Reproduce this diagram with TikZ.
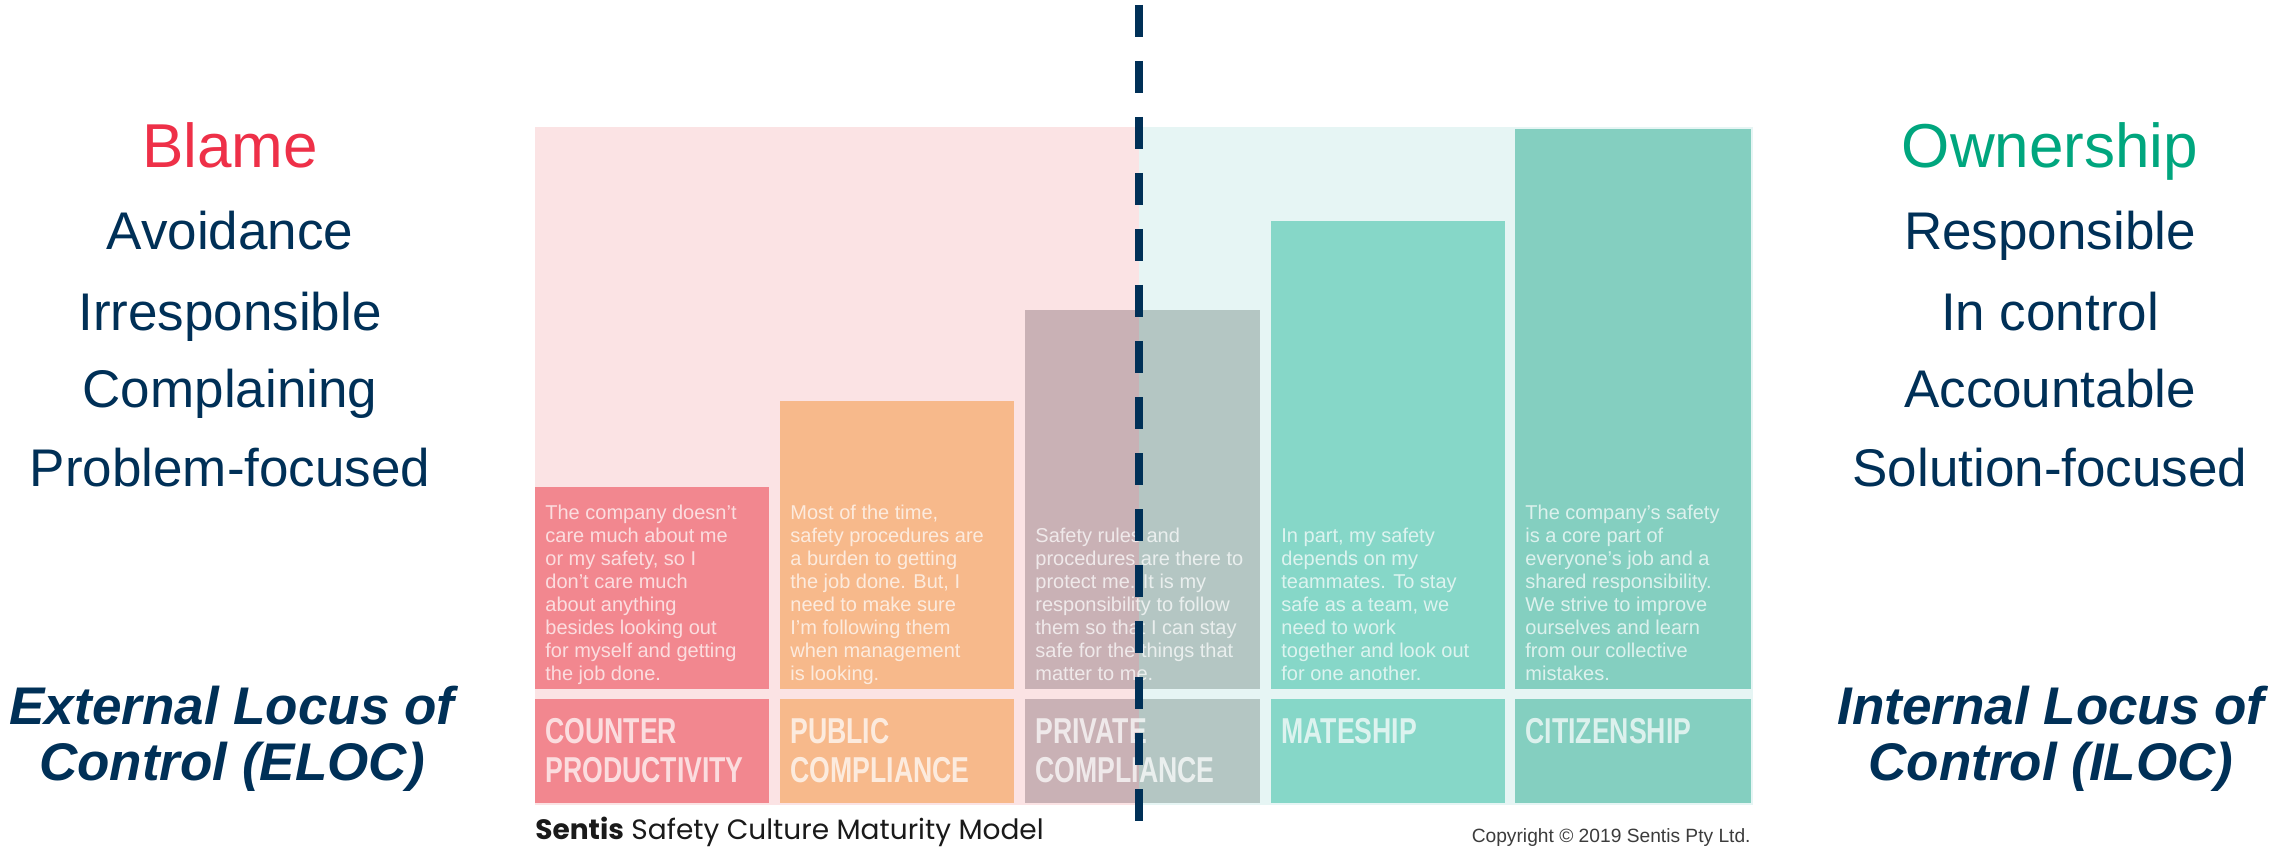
\documentclass[tikz,border=0pt]{standalone}
\usepackage{fontspec}
\setmainfont{Liberation Sans}
\newfontfamily\condfont[FakeStretch=0.74]{Liberation Sans}
\newfontfamily\capfont{Poppins}

\definecolor{navy}{HTML}{003057}
\definecolor{blamered}{HTML}{EE3048}
\definecolor{owngreen}{HTML}{00A67E}
\definecolor{panelpink}{HTML}{FBE3E4}
\definecolor{panelteal}{HTML}{E6F5F4}
\definecolor{cpred}{HTML}{F2878F}
\definecolor{pubor}{HTML}{F7B98B}
\definecolor{privl}{HTML}{C9B1B5}
\definecolor{privr}{HTML}{B4C6C3}
\definecolor{mate}{HTML}{86D7C8}
\definecolor{citi}{HTML}{84CFC0}
\definecolor{capgrey}{HTML}{1A1A1A}
\definecolor{copygrey}{HTML}{3C3C3C}

\tikzset{
  boxtext/.style={anchor=base west, inner sep=0pt, text=white, text opacity=0.72,
    font=\fontsize{10pt}{11.5pt}\selectfont},
  boxlabel/.style={anchor=base west, inner sep=0pt, text=white, text opacity=0.72,
    font=\condfont\bfseries\fontsize{18pt}{19.5pt}\selectfont},
  sideword/.style={anchor=base, inner sep=0pt, text=navy,
    font=\fontsize{26.5pt}{30pt}\selectfont},
  sidehead/.style={anchor=base, inner sep=0pt,
    font=\fontsize{31pt}{34pt}\selectfont},
  locus/.style={anchor=base, inner sep=0pt, text=navy,
    font=\bfseries\itshape\fontsize{26.5pt}{28pt}\selectfont},
  divider/.style={draw=navy, line width=4pt, dash pattern=on 16pt off 12pt},
}

\begin{document}
\begin{tikzpicture}[x=0.5pt,y=-0.5pt]
  \useasboundingbox (0,0) rectangle (2292,850);
  \fill[white] (0,0) rectangle (2292,850);

  % background panel: pink for the external side, teal for the internal side
  \fill[panelpink] (535,127) rectangle (1139,805);
  \fill[panelteal] (1139,127) rectangle (1753,805);

  % maturity columns (description part and title part)
  \fill[cpred] (535,487) rectangle (769,689);
  \fill[cpred] (535,699) rectangle (769,803);
  \fill[pubor] (780,401) rectangle (1014,689);
  \fill[pubor] (780,699) rectangle (1014,803);
  \fill[privl] (1025,310) rectangle (1139,689);
  \fill[privr] (1139,310) rectangle (1260,689);
  \fill[privl] (1025,699) rectangle (1139,803);
  \fill[privr] (1139,699) rectangle (1260,803);
  \fill[mate] (1271,221) rectangle (1505,689);
  \fill[mate] (1271,699) rectangle (1505,803);
  \fill[citi] (1515,129) rectangle (1751,689);
  \fill[citi] (1515,699) rectangle (1751,803);

  % column descriptions
  \node[boxtext] (cptext) at (545,680) {\begin{tabular}[b]{@{}l@{}}
    The company doesn't\\ care much about me\\ or my safety, so I\\ don't care much\\
    about anything\\ besides looking out\\ for myself and getting\\ the job done.\end{tabular}};
  \node[boxtext] (pubtext) at (790,680) {\begin{tabular}[b]{@{}l@{}}
    Most of the time,\\ safety procedures are\\ a burden to getting\\ the job done. But, I\\
    need to make sure\\ I'm following them\\ when management\\ is looking.\end{tabular}};
  \node[boxtext] (privtext) at (1035,680) {\begin{tabular}[b]{@{}l@{}}
    Safety rules and\\ procedures are there to\\ protect me. It is my\\ responsibility to follow\\
    them so that I can stay\\ safe for the things that\\ matter to me.\end{tabular}};
  \node[boxtext] (matetext) at (1281,680) {\begin{tabular}[b]{@{}l@{}}
    In part, my safety\\ depends on my\\ teammates. To stay\\ safe as a team, we\\
    need to work\\ together and look out\\ for one another.\end{tabular}};
  \node[boxtext] (cititext) at (1525,680) {\begin{tabular}[b]{@{}l@{}}
    The company's safety\\ is a core part of\\ everyone's job and a\\ shared responsibility.\\
    We strive to improve\\ ourselves and learn\\ from our collective\\ mistakes.\end{tabular}};

  % column titles
  \node[boxlabel] (cplabel) at (545,743) {\begin{tabular}[t]{@{}l@{}}COUNTER\\ PRODUCTIVITY\end{tabular}};
  \node[boxlabel] (publabel) at (790,743) {\begin{tabular}[t]{@{}l@{}}PUBLIC\\ COMPLIANCE\end{tabular}};
  \node[boxlabel] (privlabel) at (1035,743) {\begin{tabular}[t]{@{}l@{}}PRIVATE\\ COMPLIANCE\end{tabular}};
  \node[boxlabel] (matelabel) at (1281,743) {MATESHIP};
  \node[boxlabel] (citilabel) at (1525,743) {CITIZENSHIP};

  % captions under the chart
  \node[anchor=base west, inner sep=0pt, text=capgrey, font=\capfont\fontsize{14pt}{16pt}\selectfont]
    (caption) at (535,839) {\textbf{Sentis} Safety Culture Maturity Model};
  \node[anchor=base east, inner sep=0pt, text=copygrey, font=\fontsize{9.6pt}{11pt}\selectfont]
    (copyright) at (1751,842) {Copyright \textcopyright{} 2019 Sentis Pty Ltd.};

  % external side
  \node[sidehead, text=blamered] (blame) at (230,168) {Blame};
  \node[sideword] (avoid) at (230,250) {Avoidance};
  \node[sideword] (irresp) at (230,330) {Irresponsible};
  \node[sideword] (complain) at (230,408) {Complaining};
  \node[sideword] (problem) at (230,486) {Problem-focused};
  \node[locus] (eloc) at (232,724) {\begin{tabular}[t]{@{}c@{}}External Locus of\\ Control (ELOC)\end{tabular}};

  % internal side
  \node[sidehead, text=owngreen] (owner) at (2050,168) {Ownership};
  \node[sideword] (resp) at (2050,250) {Responsible};
  \node[sideword] (inctrl) at (2050,330) {In control};
  \node[sideword] (account) at (2050,408) {Accountable};
  \node[sideword] (solution) at (2050,486) {Solution-focused};
  \node[locus] (iloc) at (2051,724) {\begin{tabular}[t]{@{}c@{}}Internal Locus of\\ Control (ILOC)\end{tabular}};

  % dividing line between external and internal locus of control
  \coordinate (divtop) at (1139,5);
  \coordinate (divbot) at (1139,821);
  \draw[divider] (divtop) -- (divbot);
\end{tikzpicture}
\end{document}
